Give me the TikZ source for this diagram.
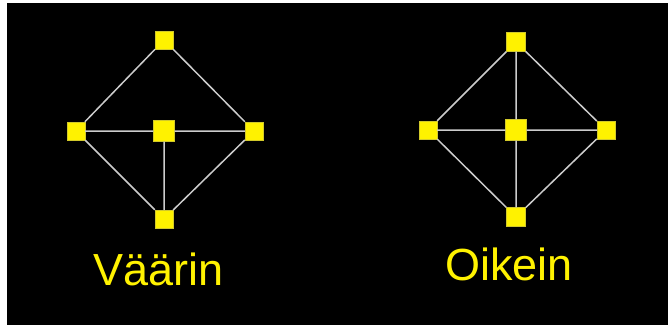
\documentclass[tikz,border=0pt]{standalone}
\usepackage{fontspec}
\setmainfont{Liberation Sans}
\begin{document}
\begin{tikzpicture}[x=1pt,y=-1pt,
  sq/.style={rectangle,fill=yellow,draw=yellow!80!black,line width=0.4pt,inner sep=0pt,minimum size=18pt},
  big/.style={sq,minimum size=21pt},
  edge/.style={draw=black!20,line width=1.5pt},
  lbl/.style={text=yellow,font=\fontsize{45}{50}\selectfont,anchor=base,inner sep=0pt}]
\useasboundingbox (0,0) rectangle (668,325);
\fill[white] (0,0) rectangle (668,325);
\fill[black] (7,3) rectangle (668,325);
% left diagram
\node[sq] (lt) at (164,40) {};
\node[sq] (ll) at (76,131) {};
\node[big] (lc) at (164,131) {};
\node[sq] (lr) at (254,131) {};
\node[sq] (lb) at (164,219) {};
\path[edge] (lt) -- (ll) (lt) -- (lr) (ll) -- (lc) (lc) -- (lr) (ll) -- (lb) (lr) -- (lb) (lc) -- (lb);
% right diagram
\node[sq,minimum size=19pt] (rt) at (516,42) {};
\node[sq] (rl) at (428,130) {};
\node[big] (rc) at (516,130) {};
\node[sq] (rr) at (606,130) {};
\node[sq,minimum size=19pt] (rb) at (516,217) {};
\path[edge] (rt) -- (rl) (rt) -- (rr) (rt) -- (rc) (rc) -- (rb) (rl) -- (rc) (rc) -- (rr) (rl) -- (rb) (rr) -- (rb);
% labels
\node[lbl] (wrong) at (158.5,285) {Väärin};
\node[lbl] (right) at (509,280) {Oikein};
\end{tikzpicture}
\end{document}
